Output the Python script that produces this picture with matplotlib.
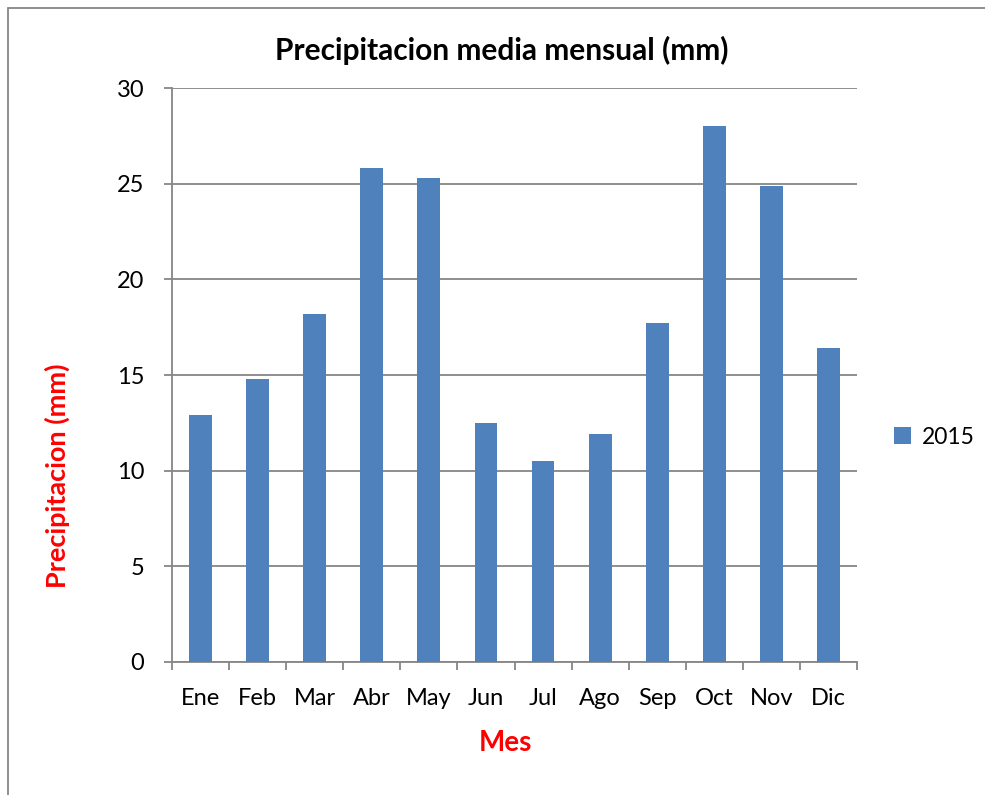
import matplotlib
matplotlib.use("Agg")
import matplotlib.pyplot as plt
from matplotlib.patches import Rectangle

months = ["Ene", "Feb", "Mar", "Abr", "May", "Jun", "Jul", "Ago", "Sep", "Oct", "Nov", "Dic"]
values_2015 = [12.9, 14.8, 18.2, 25.8, 25.3, 12.5, 10.5, 11.9, 17.7, 28.0, 24.9, 16.4]
series_name = "2015"
yticks = [0, 5, 10, 15, 20, 25, 30]

plt.rcParams['font.family'] = ['Lato', 'DejaVu Sans']

fig = plt.figure(figsize=(9.85, 7.95), dpi=100)
ax = fig.add_axes([172/985, 1-662/795, (857-172)/985, (662-88)/795])

gray = "#868686"
blue = "#4F81BD"
x = list(range(len(months)))
ax.bar(x, values_2015, width=0.4, color=blue, zorder=3, label=series_name)

ax.set_xlim(-0.5, len(months) - 0.5)
ax.set_ylim(0, 30)
ax.set_yticks(yticks)
ax.set_yticklabels([str(t) for t in yticks], fontsize=17)
ax.yaxis.grid(True, color=gray, linewidth=1.3, zorder=0)
ax.set_axisbelow(True)

ax.set_xticks([i - 0.5 for i in range(len(months) + 1)])
ax.set_xticklabels([])
ax.set_xticks(x, minor=True)
ax.set_xticklabels(months, minor=True, fontsize=17)
ax.tick_params(axis='x', which='minor', length=0, pad=19)
ax.tick_params(axis='x', which='major', length=6, width=1.3, color=gray, direction='out')
ax.tick_params(axis='y', length=6, width=1.3, color=gray, direction='out', pad=14)

for s in ['top', 'right']:
    ax.spines[s].set_visible(False)
for s in ['left', 'bottom']:
    ax.spines[s].set_color(gray)
    ax.spines[s].set_linewidth(1.3)

fig.text(505/985, 1-743/795, "Mes", fontsize=20, fontweight='bold', color='#FF0000',
         ha='center', va='center')
fig.text(57/985, 1-476/795, "Precipitacion (mm)", fontsize=19.5, fontweight='bold',
         color='#FF0000', ha='center', va='center', rotation=90)

fig.text(502/985, 1-50/795, "Precipitacion media mensual (mm)", fontsize=21.5,
         fontweight='bold', ha='center', va='center')

ax.legend(loc='center left', bbox_to_anchor=(894/985, 1-437/795),
          bbox_transform=fig.transFigure, frameon=False, fontsize=16.5,
          handlelength=0.75, handleheight=0.75, handletextpad=0.45, borderpad=0,
          borderaxespad=0)

fig.patches.append(Rectangle((8/985, -0.01), 1.0, 1 - 8/795 + 0.01, transform=fig.transFigure,
                             fill=False, edgecolor=gray, linewidth=1.3))

fig.savefig("out.png", dpi=100, facecolor='white')
